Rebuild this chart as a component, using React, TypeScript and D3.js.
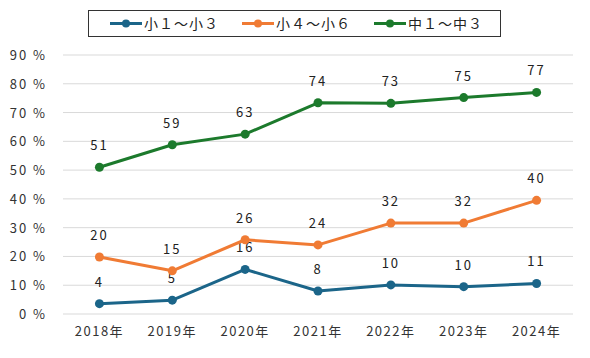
import React from "react";
import * as d3 from "d3";

const years = ["2018年", "2019年", "2020年", "2021年", "2022年", "2023年", "2024年"];
const seriesNames = ["小１～小３", "小４～小６", "中１～中３"];
const lowerGrades = [3.6, 4.8, 15.5, 8.0, 10.1, 9.5, 10.6];
const upperGrades = [19.8, 15.0, 25.8, 24.0, 31.6, 31.6, 39.5];
const juniorHigh = [51.0, 58.8, 62.5, 73.4, 73.2, 75.2, 77.0];
const labelsLower = ["4", "5", "16", "8", "10", "10", "11"];
const labelsUpper = ["20", "15", "26", "24", "32", "32", "40"];
const labelsJunior = ["51", "59", "63", "74", "73", "75", "77"];
const yTicks = [0, 10, 20, 30, 40, 50, 60, 70, 80, 90];
const colors = ["#1b6589", "#f07b34", "#1c7a2c"];

const width = 590;
const height = 358;
const margin = { top: 55, right: 17, bottom: 44, left: 63 };
const font = "'Noto Sans CJK JP', 'Noto Sans', sans-serif";

export default function App() {
  const x = d3
    .scaleBand<string>()
    .domain(years)
    .range([margin.left, width - margin.right]);
  const y = d3
    .scaleLinear()
    .domain([0, 90])
    .range([height - margin.bottom, margin.top]);

  const line = d3
    .line<number>()
    .x((_, i) => x(years[i])! + x.bandwidth() / 2)
    .y((d) => y(d));

  const series = [
    { values: lowerGrades, labels: labelsLower },
    { values: upperGrades, labels: labelsUpper },
    { values: juniorHigh, labels: labelsJunior },
  ];

  // legend layout
  const legendItems = [
    { x: 110, name: seriesNames[0] },
    { x: 242, name: seriesNames[1] },
    { x: 374, name: seriesNames[2] },
  ];

  return (
    <svg
      width={width}
      height={height}
      style={{ position: "absolute", left: 0, top: 0, background: "#fff" }}
      fontFamily={font}
    >
      {/* grid + y labels */}
      {yTicks.map((t) => (
        <g key={t}>
          <line
            x1={margin.left}
            x2={width - margin.right}
            y1={y(t)}
            y2={y(t)}
            stroke="#d9d9d9"
            strokeWidth={1}
          />
          <text
            x={47}
            y={y(t) + 5}
            textAnchor="end"
            fontSize={13}
            fill="#333"
            letterSpacing={2}
          >
            {t} %
          </text>
        </g>
      ))}

      {/* x labels */}
      {years.map((yr) => (
        <text
          key={yr}
          x={x(yr)! + x.bandwidth() / 2}
          y={336}
          textAnchor="middle"
          fontSize={13}
          fill="#333"
          letterSpacing={1.5}
        >
          {yr}
        </text>
      ))}

      {/* lines */}
      {series.map((s, si) => (
        <g key={si}>
          <path
            d={line(s.values) || ""}
            fill="none"
            stroke={colors[si]}
            strokeWidth={3}
            strokeLinejoin="round"
          />
          {s.values.map((v, i) => (
            <circle
              key={i}
              cx={x(years[i])! + x.bandwidth() / 2}
              cy={y(v)}
              r={4.5}
              fill={colors[si]}
            />
          ))}
          {s.values.map((v, i) => (
            <text
              key={"l" + i}
              x={x(years[i])! + x.bandwidth() / 2}
              y={y(v) - 17}
              textAnchor="middle"
              fontSize={13}
              fill="#222"
              letterSpacing={2}
            >
              {s.labels[i]}
            </text>
          ))}
        </g>
      ))}

      {/* legend */}
      <rect x={88.5} y={10.5} width={412} height={26} fill="#fff" stroke="#333" strokeWidth={1} />
      {legendItems.map((it, i) => (
        <g key={i}>
          <line x1={it.x} x2={it.x + 32} y1={23.5} y2={23.5} stroke={colors[i]} strokeWidth={3} />
          <circle cx={it.x + 16} cy={23.5} r={4} fill={colors[i]} />
          <text x={it.x + 34} y={29} fontSize={14} fill="#222" letterSpacing={1}>
            {it.name}
          </text>
        </g>
      ))}
    </svg>
  );
}
